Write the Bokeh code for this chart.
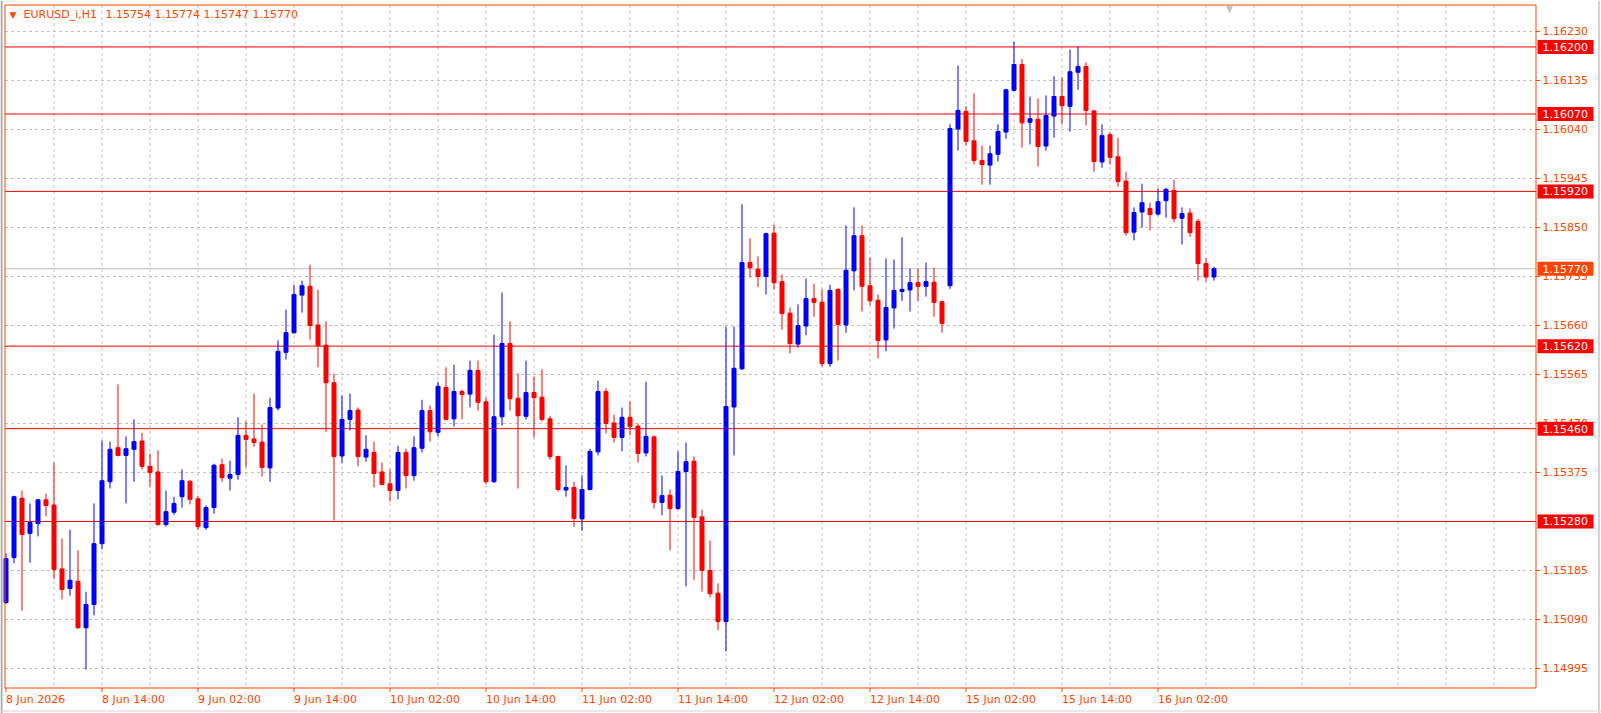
from bokeh.plotting import figure
from bokeh.models import Range1d, ColumnDataSource
from bokeh.core.properties import value
from bokeh.embed import file_html
from bokeh.resources import INLINE

# ---- data (EURUSD_i, H1), one value per hourly bar ----
opens = [1.15123, 1.15210, 1.15325, 1.15257, 1.15276, 1.15322, 1.15312, 1.15188, 1.15150, 1.15164,
         1.15074, 1.15119, 1.15237, 1.15357, 1.15423, 1.15408, 1.15420, 1.15436, 1.15387, 1.15376,
         1.15274, 1.15298, 1.15328, 1.15358, 1.15324, 1.15268, 1.15307, 1.15390, 1.15364, 1.15371,
         1.15447, 1.15440, 1.15434, 1.15384, 1.15500, 1.15608, 1.15646, 1.15719, 1.15736, 1.15661,
         1.15622, 1.15549, 1.15407, 1.15478, 1.15496, 1.15405, 1.15414, 1.15376, 1.15353, 1.15340,
         1.15414, 1.15369, 1.15422, 1.15495, 1.15453, 1.15540, 1.15479, 1.15532, 1.15527, 1.15573,
         1.15512, 1.15357, 1.15483, 1.15625, 1.15519, 1.15484, 1.15530, 1.15521, 1.15479, 1.15406,
         1.15341, 1.15346, 1.15285, 1.15342, 1.15415, 1.15532, 1.15471, 1.15443, 1.15482, 1.15465,
         1.15413, 1.15444, 1.15317, 1.15331, 1.15305, 1.15377, 1.15397, 1.15289, 1.15185, 1.15141,
         1.15086, 1.15502, 1.15576, 1.15782, 1.15769, 1.15755, 1.15839, 1.15745, 1.15684, 1.15624,
         1.15659, 1.15712, 1.15705, 1.15586, 1.15730, 1.15661, 1.15766, 1.15834, 1.15737, 1.15709,
         1.15632, 1.15694, 1.15726, 1.15729, 1.15743, 1.15736, 1.15744, 1.15706, 1.15737, 1.16041,
         1.16075, 1.16018, 1.15980, 1.15971, 1.15992, 1.16035, 1.16116, 1.16166, 1.16054, 1.16060,
         1.16008, 1.16066, 1.16104, 1.16085, 1.16151, 1.16162, 1.16076, 1.15977, 1.16030, 1.15987,
         1.15940, 1.15841, 1.15880, 1.15887, 1.15876, 1.15902, 1.15922, 1.15868, 1.15878, 1.15862,
         1.15780, 1.15754]
highs = [1.15218, 1.15330, 1.15340, 1.15315, 1.15323, 1.15334, 1.15394, 1.15247, 1.15264, 1.15224,
         1.15144, 1.15315, 1.15437, 1.15435, 1.15546, 1.15445, 1.15478, 1.15452, 1.15412, 1.15418,
         1.15340, 1.15328, 1.15381, 1.15360, 1.15330, 1.15311, 1.15392, 1.15402, 1.15398, 1.15482,
         1.15474, 1.15528, 1.15468, 1.15520, 1.15631, 1.15691, 1.15739, 1.15747, 1.15778, 1.15730,
         1.15668, 1.15567, 1.15524, 1.15528, 1.15501, 1.15447, 1.15435, 1.15394, 1.15381, 1.15427,
         1.15421, 1.15445, 1.15516, 1.15505, 1.15551, 1.15579, 1.15584, 1.15536, 1.15592, 1.15592,
         1.15520, 1.15642, 1.15724, 1.15668, 1.15567, 1.15592, 1.15561, 1.15575, 1.15485, 1.15408,
         1.15389, 1.15357, 1.15369, 1.15421, 1.15553, 1.15538, 1.15487, 1.15501, 1.15513, 1.15470,
         1.15551, 1.15447, 1.15369, 1.15342, 1.15416, 1.15433, 1.15406, 1.15303, 1.15243, 1.15160,
         1.15658, 1.15658, 1.15895, 1.15829, 1.15794, 1.15840, 1.15856, 1.15759, 1.15695, 1.15701,
         1.15751, 1.15741, 1.15730, 1.15739, 1.15732, 1.15854, 1.15889, 1.15854, 1.15792, 1.15720,
         1.15790, 1.15788, 1.15831, 1.15770, 1.15770, 1.15782, 1.15772, 1.15708, 1.16050, 1.16164,
         1.16085, 1.16110, 1.16009, 1.16009, 1.16050, 1.16119, 1.16210, 1.16177, 1.16104, 1.16100,
         1.16106, 1.16143, 1.16141, 1.16195, 1.16201, 1.16170, 1.16078, 1.16050, 1.16034, 1.16024,
         1.15958, 1.15889, 1.15935, 1.15898, 1.15926, 1.15927, 1.15943, 1.15889, 1.15887, 1.15867,
         1.15790, 1.15774]
lows = [1.15120, 1.15199, 1.15107, 1.15200, 1.15251, 1.15290, 1.15169, 1.15129, 1.15136, 1.15072,
        1.14993, 1.15098, 1.15226, 1.15344, 1.15406, 1.15315, 1.15357, 1.15381, 1.15348, 1.15272,
        1.15270, 1.15293, 1.15307, 1.15313, 1.15264, 1.15264, 1.15295, 1.15357, 1.15340, 1.15361,
        1.15385, 1.15425, 1.15367, 1.15357, 1.15495, 1.15594, 1.15644, 1.15685, 1.15633, 1.15579,
        1.15454, 1.15282, 1.15394, 1.15456, 1.15387, 1.15396, 1.15346, 1.15350, 1.15319, 1.15323,
        1.15344, 1.15359, 1.15414, 1.15435, 1.15445, 1.15476, 1.15464, 1.15478, 1.15501, 1.15495,
        1.15352, 1.15355, 1.15466, 1.15495, 1.15344, 1.15478, 1.15443, 1.15474, 1.15400, 1.15338,
        1.15328, 1.15270, 1.15262, 1.15340, 1.15408, 1.15451, 1.15433, 1.15416, 1.15447, 1.15394,
        1.15406, 1.15305, 1.15292, 1.15224, 1.15303, 1.15154, 1.15167, 1.15144, 1.15133, 1.15069,
        1.15028, 1.15408, 1.15574, 1.15753, 1.15734, 1.15720, 1.15730, 1.15652, 1.15606, 1.15617,
        1.15641, 1.15677, 1.15580, 1.15580, 1.15592, 1.15646, 1.15728, 1.15687, 1.15699, 1.15596,
        1.15610, 1.15654, 1.15708, 1.15687, 1.15708, 1.15716, 1.15677, 1.15646, 1.15731, 1.15999,
        1.16009, 1.15972, 1.15933, 1.15933, 1.15978, 1.16022, 1.16114, 1.16005, 1.16011, 1.15968,
        1.15999, 1.16024, 1.16050, 1.16036, 1.16117, 1.16048, 1.15958, 1.15966, 1.15972, 1.15929,
        1.15834, 1.15825, 1.15850, 1.15844, 1.15873, 1.15869, 1.15860, 1.15817, 1.15832, 1.15747,
        1.15745, 1.15747]
closes = [1.15208, 1.15328, 1.15255, 1.15278, 1.15322, 1.15311, 1.15187, 1.15148, 1.15166, 1.15074,
          1.15119, 1.15237, 1.15359, 1.15420, 1.15408, 1.15421, 1.15435, 1.15387, 1.15375, 1.15274,
          1.15299, 1.15315, 1.15359, 1.15323, 1.15270, 1.15307, 1.15389, 1.15365, 1.15371, 1.15447,
          1.15439, 1.15433, 1.15385, 1.15501, 1.15610, 1.15646, 1.15720, 1.15737, 1.15660, 1.15621,
          1.15549, 1.15406, 1.15478, 1.15495, 1.15406, 1.15420, 1.15373, 1.15352, 1.15340, 1.15414,
          1.15369, 1.15423, 1.15495, 1.15454, 1.15542, 1.15478, 1.15532, 1.15526, 1.15573, 1.15511,
          1.15357, 1.15483, 1.15625, 1.15518, 1.15485, 1.15530, 1.15520, 1.15478, 1.15406, 1.15342,
          1.15346, 1.15286, 1.15342, 1.15416, 1.15532, 1.15470, 1.15443, 1.15482, 1.15464, 1.15412,
          1.15445, 1.15317, 1.15330, 1.15305, 1.15377, 1.15396, 1.15288, 1.15185, 1.15140, 1.15086,
          1.15503, 1.15577, 1.15782, 1.15772, 1.15755, 1.15838, 1.15743, 1.15683, 1.15625, 1.15660,
          1.15712, 1.15705, 1.15586, 1.15728, 1.15662, 1.15767, 1.15834, 1.15736, 1.15708, 1.15631,
          1.15695, 1.15728, 1.15730, 1.15743, 1.15736, 1.15745, 1.15705, 1.15664, 1.16042, 1.16077,
          1.16017, 1.15980, 1.15972, 1.15993, 1.16036, 1.16117, 1.16166, 1.16053, 1.16061, 1.16007,
          1.16067, 1.16104, 1.16086, 1.16152, 1.16162, 1.16077, 1.15978, 1.16028, 1.15986, 1.15939,
          1.15840, 1.15879, 1.15898, 1.15875, 1.15900, 1.15924, 1.15867, 1.15877, 1.15840, 1.15780,
          1.15754, 1.15770]

time_tick_bars = [0, 12, 24, 36, 48, 60, 72, 84, 96, 108, 120, 132, 144]
time_tick_labels = ["8 Jun 2026", "8 Jun 14:00", "9 Jun 02:00", "9 Jun 14:00", "10 Jun 02:00",
                    "10 Jun 14:00", "11 Jun 02:00", "11 Jun 14:00", "12 Jun 02:00", "12 Jun 14:00",
                    "15 Jun 02:00", "15 Jun 14:00", "16 Jun 02:00"]
grid_bars = [6, 12, 18, 24, 30, 36, 42, 48, 54, 60, 66, 72, 78, 84, 90, 96, 102, 108, 114, 120,
             126, 132, 138, 144, 150, 156, 162, 168, 174, 180, 186]
price_ticks = [1.16230, 1.16135, 1.16040, 1.15945, 1.15850, 1.15755, 1.15660, 1.15565,
               1.15470, 1.15375, 1.15185, 1.15090, 1.14995]
price_tick_labels = ["1.16230", "1.16135", "1.16040", "1.15945", "1.15850", "1.15755", "1.15660",
                     "1.15565", "1.15470", "1.15375", "1.15185", "1.15090", "1.14995"]
levels = [1.16200, 1.16070, 1.15920, 1.15620, 1.15460, 1.15280]
level_labels = ["1.16200", "1.16070", "1.15920", "1.15620", "1.15460", "1.15280"]
symbol = "EURUSD_i,H1"
last_ohlc_text = "1.15754 1.15774 1.15747 1.15770"
last_price = 1.15770
last_price_label = "1.15770"

# ---- styling / layout (pixels) ----
W, H = 1601, 713
ORANGE = "#FF4500"
BULL = "#0000FF"
BEAR = "#FF0000"
GRID = "#C0C0C0"
FONT = value("DejaVu Sans")
FS = "11px"
FL, FR, FT, FB = 4.5, 1535.5, 4.5, 687.5     # chart frame edges
LABEL_X = 1542                                 # price-scale text start
BOX_CX, BOX_W, BOX_H = 1565, 56, 14            # price boxes
TIME_Y = 699                                   # time-scale text centre

n = len(opens)
xs = list(range(n))
src = ColumnDataSource(dict(
    x=xs, high=highs, low=lows,
    top=[max(o, c) for o, c in zip(opens, closes)],
    bottom=[min(o, c) for o, c in zip(opens, closes)],
    color=[BULL if c >= o else BEAR for o, c in zip(opens, closes)],
))

# whole canvas is the plotting frame; bars are placed 8 px apart
p = figure(width=W, height=H,
           x_range=Range1d(-0.6875, 199.4375),
           y_range=Range1d(1.1490774, 1.1629010),
           output_backend="svg", toolbar_location=None,
           x_axis_location=None, y_axis_location=None,
           min_border=0, outline_line_color=None,
           background_fill_color="white", border_fill_color="white")
p.xgrid.visible = False
p.ygrid.visible = False
p.extra_x_ranges = {"px": Range1d(0, W)}
p.extra_y_ranges = {"py": Range1d(H, 0)}

k = len(price_ticks)
# horizontal grid (price ticks)
p.segment(x0=[FL] * k, x1=[FR] * k, y0=price_ticks, y1=price_ticks, x_range_name="px",
          line_color=GRID, line_dash="3 3", line_width=1)
# vertical grid (every 6 bars)
g = len(grid_bars)
p.segment(x0=grid_bars, x1=grid_bars, y0=[FT] * g, y1=[FB] * g, y_range_name="py",
          line_color=GRID, line_dash="3 3", line_width=1)
# level lines and last price line
m = len(levels)
p.segment(x0=[FL] * m, x1=[FR] * m, y0=levels, y1=levels, x_range_name="px",
          line_color="#FF0000", line_width=1)
p.segment(x0=[FL], x1=[FR], y0=[last_price], y1=[last_price], x_range_name="px",
          line_color=GRID, line_width=1)

# candles
p.segment(x0="x", y0="high", x1="x", y1="low", source=src, line_color="color", line_width=1)
p.vbar(x="x", width=0.5, top="top", bottom="bottom", source=src,
       fill_color="color", line_color="color", line_width=1)

# window edge
p.segment(x0=[1, W - 2.5], x1=[1, W - 2.5], y0=[0, 0], y1=[H, H], x_range_name="px",
          y_range_name="py", line_color="#A8A8A8", line_width=[2, 1])
p.segment(x0=[0], x1=[W], y0=[H - 2.5], y1=[H - 2.5], x_range_name="px",
          y_range_name="py", line_color="#D4D4D4", line_width=1)

# chart frame
p.segment(x0=[FL, FR, FL, FL], x1=[FL, FR, FR, FR], y0=[FT, FT, FT, FB], y1=[FB, FB, FT, FB],
          x_range_name="px", y_range_name="py", line_color=ORANGE, line_width=1)

# price scale: ticks and labels
p.segment(x0=[FR] * k, x1=[FR + 4] * k, y0=price_ticks, y1=price_ticks, x_range_name="px",
          line_color=ORANGE, line_width=1)
p.text(x=[LABEL_X] * k, y=price_ticks, text=price_tick_labels, x_range_name="px",
       text_font=FONT, text_font_size=FS, text_color=ORANGE,
       text_align="left", text_baseline="middle")

# time scale: ticks and labels
t = len(time_tick_bars)
p.segment(x0=time_tick_bars, x1=time_tick_bars, y0=[FB] * t, y1=[FB + 4] * t, y_range_name="py",
          line_color=ORANGE, line_width=1)
p.text(x=time_tick_bars, y=[TIME_Y] * t, text=time_tick_labels, y_range_name="py",
       text_font=FONT, text_font_size=FS, text_color=ORANGE,
       text_align="left", text_baseline="middle")

# level price boxes and last price box
p.rect(x=[BOX_CX] * m, y=levels, width=BOX_W, height=BOX_H, height_units="screen",
       x_range_name="px", fill_color="#FF0000", line_color=None)
p.text(x=[LABEL_X] * m, y=levels, text=level_labels, x_range_name="px",
       text_font=FONT, text_font_size=FS, text_color="white",
       text_align="left", text_baseline="middle")
p.rect(x=[BOX_CX], y=[last_price], width=BOX_W, height=BOX_H, height_units="screen",
       x_range_name="px", fill_color=ORANGE, line_color=None)
p.text(x=[LABEL_X], y=[last_price], text=[last_price_label], x_range_name="px",
       text_font=FONT, text_font_size=FS, text_color="white",
       text_align="left", text_baseline="middle")

# header
p.text(x=[12.5], y=[14], text=["\u25BC"], x_range_name="px", y_range_name="py",
       text_font=FONT, text_font_size="9px", text_color=ORANGE,
       text_align="center", text_baseline="middle")
p.text(x=[23, 105], y=[14, 14], text=[symbol, last_ohlc_text], x_range_name="px", y_range_name="py",
       text_font=FONT, text_font_size=FS, text_color=ORANGE,
       text_align="left", text_baseline="middle")
# chart-shift marker
p.text(x=[1229], y=[8], text=["\u25BC"], x_range_name="px", y_range_name="py",
       text_font=FONT, text_font_size="9px", text_color=GRID,
       text_align="center", text_baseline="middle")

open("out.html", "w").write(file_html(p, INLINE))
